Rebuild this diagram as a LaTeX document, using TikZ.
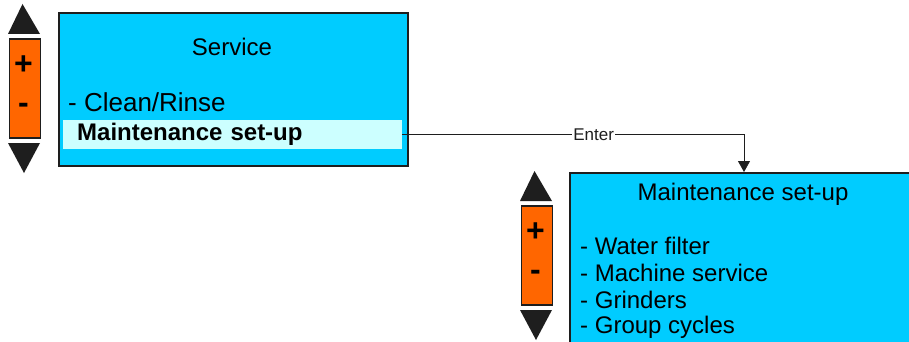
\documentclass[tikz,border=0pt]{standalone}
\usepackage{fontspec}
\setmainfont{Liberation Sans}
\usetikzlibrary{arrows.meta}

\definecolor{screen}{HTML}{00CCFF}
\definecolor{selrow}{HTML}{CCFFFF}
\definecolor{keybar}{HTML}{FF6600}
\definecolor{dark}{HTML}{1E1E1E}

\tikzset{
  menubox/.style={draw=dark, line width=2pt, fill=screen, anchor=north west, inner sep=0pt},
  selbox/.style={fill=selrow, anchor=west, inner xsep=14pt, inner ysep=0pt, text width=311pt,
    align=left, minimum height=29pt, font=\fontsize{24}{28}\selectfont\bfseries},
  keybox/.style={draw=dark, line width=1.6pt, fill=keybar, anchor=north west, inner sep=0pt,
    minimum width=31pt, minimum height=99pt},
  arrowkey/.style={fill=dark},
  menutext/.style={font=\fontsize{24}{28}\selectfont, inner sep=0pt},
  signtext/.style={font=\fontsize{32}{36}\selectfont\bfseries, inner sep=0pt}
}

\begin{document}
\begin{tikzpicture}[x=1pt, y=-1pt]
  \useasboundingbox (0,0) rectangle (909,342);
  \clip (0,0) rectangle (909,342);

  % Service screen
  \node[menubox, minimum width=349pt, minimum height=153pt] (svc) at (58,12) {};
  \node[menutext] (svctitle) at (232,47) {Service};
  \node[menutext, anchor=west, font=\fontsize{26}{30}\selectfont] (clean) at (68,102) {- Clean/Rinse};
  \node[selbox] (sel) at (63,134.5) {Maintenance set-up};

  % Maintenance set-up screen
  \node[menubox, minimum width=348pt, minimum height=200pt] (mnt) at (569,172) {};
  \node[menutext] (mnttitle) at (743,194) {Maintenance set-up};
  \node[menutext, anchor=west] (water) at (580,246) {- Water filter};
  \node[menutext, anchor=west] (machine) at (580,273) {- Machine service};
  \node[menutext, anchor=west] (grind) at (580,300) {- Grinders};
  \node[menutext, anchor=west] (group) at (580,327) {- Group cycles};

  % +/- keys with up and down arrows
  \foreach \x/\y/\n in {8/4/a, 520/171/b} {
    \fill[arrowkey] (\x+14.5,\y) -- (\x+32,\y+30) -- (\x,\y+30) -- cycle;
    \node[keybox] (key\n) at (\x+0.5,\y+34) {};
    \node[signtext] (plus\n) at (\x+15.5,\y+61) {+};
    \node[signtext] (minus\n) at (\x+15.5,\y+104) {-};
    \fill[arrowkey] (\x,\y+139) -- (\x+32,\y+139) -- (\x+16,\y+169) -- cycle;
  }

  % Enter
  \draw[dark, line width=0.8pt, -{Triangle[length=11pt, width=12pt]}]
    (sel.east) -| node[pos=0.28, fill=white, inner sep=1pt, font=\fontsize{17}{20}\selectfont] (enter) {Enter} (mnt.north);
\end{tikzpicture}
\end{document}
